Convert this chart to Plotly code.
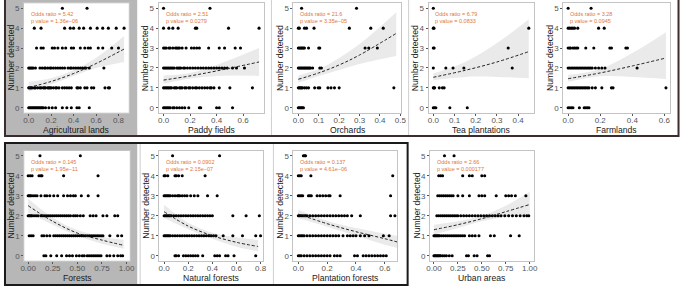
import plotly.graph_objects as go

# ---------------- data ----------------
panel_titles = ["Agricultural lands", "Paddy fields", "Orchards", "Tea plantations", "Farmlands",
                "Forests", "Natural forests", "Plantation forests", "Urban areas"]
odds_ratios = ["5.42", "2.51", "21.6", "6.79", "3.28", "0.145", "0.0902", "0.137", "2.66"]
p_values = ["1.36e\u221206", "0.0279", "3.35e\u221205", "0.0833", "0.0945",
            "1.95e\u221211", "2.15e\u221207", "4.61e\u221206", "0.000177"]
y_ticks = [0, 1, 2, 3, 4, 5]

agri_pts = {
    5: [0.30, 0.52],
    4: [0.05, 0.11, 0.32, 0.37, 0.40, 0.45, 0.49, 0.55, 0.61, 0.66, 0.71, 0.78, 0.85],
    3: [0.07, 0.11, 0.13, 0.21, 0.23, 0.26, 0.30, 0.33, 0.38, 0.40, 0.46, 0.50, 0.53, 0.55, 0.62, 0.66, 0.74, 0.80],
    2: [0.0, 0.01, 0.02, 0.03, 0.04, 0.06, 0.10, 0.12, 0.14, 0.15, 0.17, 0.19, 0.20, 0.22, 0.24, 0.26, 0.28,
        0.30, 0.32, 0.35, 0.37, 0.38, 0.40, 0.42, 0.44, 0.46, 0.48, 0.50, 0.51, 0.54, 0.67],
    1: [0.0, 0.01, 0.02, 0.03, 0.05, 0.06, 0.08, 0.10, 0.11, 0.13, 0.14, 0.15, 0.17, 0.18, 0.19, 0.20, 0.22,
        0.24, 0.25, 0.27, 0.30, 0.32, 0.34, 0.36, 0.38, 0.43, 0.44, 0.46, 0.50, 0.52, 0.56, 0.58, 0.68, 0.71, 0.72],
    0: [0.0, 0.01, 0.02, 0.03, 0.04, 0.05, 0.06, 0.07, 0.08, 0.09, 0.10, 0.11, 0.12, 0.13, 0.15, 0.18, 0.21,
        0.24, 0.30, 0.34, 0.38, 0.43, 0.45, 0.54],
}
paddy_pts = {
    5: [0.0, 0.35],
    4: [0.0, 0.04, 0.07, 0.11, 0.24, 0.25, 0.49, 0.72],
    3: [0.0, 0.01, 0.02, 0.04, 0.05, 0.07, 0.09, 0.10, 0.11, 0.12, 0.14, 0.17, 0.21, 0.23, 0.25, 0.27, 0.34,
        0.42, 0.46, 0.54, 0.58],
    2: [0.0, 0.01, 0.02, 0.03, 0.04, 0.05, 0.06, 0.07, 0.08, 0.10, 0.11, 0.12, 0.13, 0.15, 0.16, 0.18, 0.20,
        0.22, 0.24, 0.26, 0.28, 0.30, 0.32, 0.34, 0.36, 0.38, 0.40, 0.42, 0.44, 0.46, 0.48, 0.52, 0.55, 0.61],
    1: [0.0, 0.01, 0.02, 0.03, 0.04, 0.05, 0.06, 0.08, 0.09, 0.10, 0.12, 0.13, 0.14, 0.16, 0.17, 0.19, 0.20,
        0.22, 0.24, 0.25, 0.27, 0.29, 0.31, 0.33, 0.35, 0.36, 0.38, 0.42, 0.50, 0.67],
    0: [0.0, 0.01, 0.02, 0.03, 0.04, 0.05, 0.07, 0.08, 0.10, 0.12, 0.14, 0.16, 0.19, 0.27, 0.28, 0.40, 0.42, 0.52],
}
orch_pts = {
    5: [0.016, 0.285],
    4: [0.0, 0.005, 0.03, 0.04, 0.077, 0.25, 0.355, 0.416],
    3: [0.0, 0.005, 0.01, 0.015, 0.02, 0.025, 0.03, 0.05, 0.10, 0.105, 0.327, 0.345, 0.387],
    2: [0.0, 0.005, 0.01, 0.015, 0.02, 0.025, 0.03, 0.035, 0.04, 0.045, 0.05, 0.055, 0.06, 0.07, 0.105, 0.113],
    1: [0.0, 0.005, 0.01, 0.015, 0.02, 0.03, 0.04, 0.05, 0.08, 0.097, 0.105, 0.145, 0.16, 0.177, 0.20, 0.468],
    0: [0.0, 0.005, 0.01, 0.015, 0.02, 0.025],
}
tea_pts = {
    5: [0.0],
    4: [0.0, 0.003, 0.45],
    3: [0.0, 0.004, 0.353],
    2: [0.0, 0.059, 0.093, 0.144, 0.372],
    1: [0.0, 0.003, 0.006, 0.028, 0.043, 0.051],
    0: [0.0, 0.006, 0.012, 0.078, 0.16],
}
farm_pts = {
    5: [0.0, 0.143],
    4: [0.0, 0.01, 0.02, 0.03, 0.04, 0.06, 0.19, 0.225],
    3: [0.0, 0.01, 0.015, 0.03, 0.04, 0.05, 0.06, 0.11, 0.16, 0.26, 0.27, 0.36, 0.37],
    2: [0.0, 0.01, 0.02, 0.03, 0.04, 0.05, 0.06, 0.07, 0.08, 0.09, 0.10, 0.11, 0.12, 0.13, 0.14, 0.15, 0.17,
        0.19, 0.21, 0.23, 0.43],
    1: [0.0, 0.01, 0.02, 0.03, 0.04, 0.05, 0.06, 0.07, 0.08, 0.09, 0.10, 0.11, 0.12, 0.13, 0.15, 0.17, 0.21,
        0.27, 0.28, 0.61],
    0: [0.0, 0.01, 0.02, 0.03, 0.07, 0.10, 0.11, 0.12, 0.13],
}
forest_pts = {
    5: [0.12, 0.53],
    4: [0.0, 0.02, 0.04, 0.11, 0.13, 0.14, 0.36, 0.71],
    3: [0.0, 0.01, 0.02, 0.03, 0.05, 0.07, 0.09, 0.13, 0.17, 0.19, 0.22, 0.26, 0.30, 0.36, 0.40, 0.43, 0.46,
        0.48, 0.54, 0.61, 0.71],
    2: [0.0, 0.01, 0.02, 0.03, 0.04, 0.06, 0.08, 0.10, 0.13, 0.15, 0.17, 0.19, 0.21, 0.23, 0.25, 0.27, 0.29,
        0.31, 0.33, 0.35, 0.37, 0.39, 0.41, 0.43, 0.46, 0.48, 0.50, 0.53, 0.56, 0.63, 0.66, 0.69, 0.76, 0.80,
        0.88, 0.91],
    1: [0.01, 0.03, 0.05, 0.14, 0.16, 0.19, 0.22, 0.26, 0.28, 0.30, 0.32, 0.34, 0.36, 0.38, 0.40, 0.42, 0.44,
        0.46, 0.48, 0.50, 0.52, 0.54, 0.56, 0.58, 0.60, 0.62, 0.64, 0.66, 0.68, 0.70, 0.72, 0.74, 0.76, 0.83,
        0.91, 0.95],
    0: [0.16, 0.18, 0.23, 0.29, 0.34, 0.39, 0.42, 0.45, 0.49, 0.52, 0.55, 0.57, 0.60, 0.62, 0.64, 0.66, 0.68,
        0.70, 0.72, 0.74, 0.80, 0.83, 0.87, 0.91, 0.94, 0.96],
}
natural_pts = {
    5: [0.07, 0.46],
    4: [0.0, 0.01, 0.03, 0.09, 0.10, 0.12, 0.15, 0.34],
    3: [0.0, 0.01, 0.02, 0.03, 0.04, 0.05, 0.07, 0.09, 0.11, 0.12, 0.13, 0.15, 0.17, 0.19, 0.22, 0.25, 0.28,
        0.36, 0.44],
    2: [0.0, 0.01, 0.02, 0.03, 0.04, 0.05, 0.06, 0.08, 0.10, 0.12, 0.14, 0.16, 0.18, 0.20, 0.22, 0.24, 0.26,
        0.28, 0.30, 0.32, 0.34, 0.36, 0.38, 0.40, 0.57, 0.68, 0.79],
    1: [0.0, 0.01, 0.02, 0.03, 0.04, 0.05, 0.07, 0.09, 0.11, 0.13, 0.15, 0.17, 0.19, 0.21, 0.23, 0.25, 0.27,
        0.29, 0.31, 0.33, 0.35, 0.37, 0.39, 0.41, 0.43, 0.49, 0.57, 0.65, 0.76, 0.80],
    0: [0.09, 0.10, 0.12, 0.16, 0.18, 0.20, 0.22, 0.24, 0.26, 0.28, 0.32, 0.42, 0.44, 0.46, 0.51, 0.53, 0.58, 0.76],
}
plantation_pts = {
    5: [0.035, 0.045, 0.05],
    4: [0.0, 0.01, 0.02, 0.087, 0.655],
    3: [0.0, 0.01, 0.02, 0.03, 0.07, 0.08, 0.09, 0.13, 0.15, 0.17, 0.19, 0.21, 0.22, 0.29, 0.64],
    2: [0.0, 0.01, 0.02, 0.03, 0.04, 0.05, 0.06, 0.08, 0.10, 0.12, 0.14, 0.16, 0.18, 0.20, 0.22, 0.24, 0.26,
        0.28, 0.30, 0.32, 0.34, 0.37, 0.43, 0.64, 0.67],
    1: [0.0, 0.01, 0.02, 0.03, 0.04, 0.06, 0.08, 0.10, 0.12, 0.14, 0.16, 0.18, 0.20, 0.22, 0.24, 0.26, 0.28,
        0.31, 0.34, 0.36, 0.38, 0.40, 0.43, 0.46, 0.49, 0.59, 0.63],
    0: [0.0, 0.01, 0.02, 0.04, 0.06, 0.08, 0.10, 0.12, 0.14, 0.16, 0.18, 0.20, 0.22, 0.25, 0.27, 0.29, 0.39,
        0.41, 0.45, 0.47, 0.49, 0.51, 0.53, 0.55, 0.57, 0.59, 0.61],
}
urban_pts = {
    5: [0.11, 0.21],
    4: [0.05, 0.07, 0.09, 0.30, 0.37, 0.40, 0.50, 0.53],
    3: [0.04, 0.06, 0.08, 0.10, 0.12, 0.14, 0.16, 0.18, 0.20, 0.25, 0.30, 0.37, 0.47, 0.50, 0.53, 0.65, 0.75,
        0.78, 0.81, 0.85, 0.96],
    2: [0.03, 0.05, 0.07, 0.09, 0.11, 0.13, 0.15, 0.17, 0.19, 0.21, 0.23, 0.25, 0.28, 0.31, 0.34, 0.37, 0.40,
        0.43, 0.46, 0.49, 0.52, 0.55, 0.58, 0.61, 0.64, 0.67, 0.70, 0.74, 0.78, 0.82, 0.86, 0.90, 0.94, 0.97, 0.99],
    1: [0.0, 0.01, 0.02, 0.03, 0.04, 0.05, 0.06, 0.08, 0.10, 0.12, 0.14, 0.16, 0.18, 0.20, 0.22, 0.24, 0.26,
        0.28, 0.30, 0.32, 0.37, 0.40, 0.43, 0.47, 0.59, 0.63, 0.80, 0.89],
    0: [0.0, 0.01, 0.02, 0.03, 0.04, 0.05, 0.06, 0.07, 0.09, 0.11, 0.13, 0.16, 0.19, 0.34, 0.36, 0.42, 0.45,
        0.56, 0.58],
}
all_pts = [agri_pts, paddy_pts, orch_pts, tea_pts, farm_pts, forest_pts, natural_pts, plantation_pts, urban_pts]

# fitted curve and confidence band, read at a few x positions
fit_x = [
    [0, 0.2, 0.4, 0.6, 0.85],
    [0, 0.2, 0.4, 0.72],
    [0, 0.1, 0.2, 0.3, 0.48],
    [0, 0.15, 0.3, 0.45],
    [0, 0.2, 0.4, 0.61],
    [0, 0.25, 0.5, 0.75, 0.97],
    [0, 0.2, 0.4, 0.6, 0.78],
    [0, 0.2, 0.4, 0.6, 0.69],
    [0, 0.25, 0.5, 0.75, 1.0],
]
fit_y = [
    [1.02, 1.32, 1.72, 2.22, 2.95],
    [1.39, 1.6, 1.85, 2.3],
    [1.43, 1.75, 2.15, 2.65, 3.74],
    [1.53, 1.88, 2.3, 2.82],
    [1.46, 1.75, 2.1, 2.5],
    [2.5, 1.72, 1.13, 0.78, 0.52],
    [2.2, 1.48, 1.0, 0.67, 0.46],
    [2.08, 1.6, 1.2, 0.85, 0.68],
    [1.3, 1.55, 1.85, 2.2, 2.56],
]
band_lo = [
    [0.8, 1.18, 1.6, 2.0, 2.3],
    [1.2, 1.47, 1.6, 1.6],
    [1.25, 1.6, 1.9, 2.2, 2.6],
    [1.38, 1.55, 1.55, 1.48],
    [1.3, 1.58, 1.55, 1.45],
    [2.15, 1.55, 1.0, 0.6, 0.35],
    [1.88, 1.32, 0.85, 0.45, 0.22],
    [1.87, 1.45, 1.0, 0.55, 0.38],
    [1.05, 1.38, 1.72, 1.95, 2.05],
]
band_hi = [
    [1.3, 1.48, 1.88, 2.5, 3.6],
    [1.62, 1.75, 2.15, 3.0],
    [1.62, 1.95, 2.5, 3.2, 4.8],
    [1.72, 2.3, 3.25, 4.45],
    [1.65, 1.95, 2.75, 3.8],
    [2.85, 1.9, 1.28, 0.95, 0.8],
    [2.55, 1.65, 1.15, 0.92, 0.78],
    [2.3, 1.75, 1.38, 1.1, 0.98],
    [1.55, 1.72, 2.0, 2.5, 3.2],
]
x_tickvals = [
    [0, 0.2, 0.4, 0.6, 0.8],
    [0, 0.2, 0.4, 0.6],
    [0, 0.1, 0.2, 0.3, 0.4, 0.5],
    [0, 0.1, 0.2, 0.3, 0.4],
    [0, 0.2, 0.4, 0.6],
    [0, 0.25, 0.5, 0.75, 1.0],
    [0, 0.2, 0.4, 0.6, 0.8],
    [0, 0.2, 0.4, 0.6],
    [0, 0.25, 0.5, 0.75, 1.0],
]
x_ticktext = [
    ["0.0", "0.2", "0.4", "0.6", "0.8"],
    ["0.0", "0.2", "0.4", "0.6"],
    ["0.0", "0.1", "0.2", "0.3", "0.4", "0.5"],
    ["0.0", "0.1", "0.2", "0.3", "0.4"],
    ["0.0", "0.2", "0.4", "0.6"],
    ["0.00", "0.25", "0.50", "0.75", "1.00"],
    ["0.0", "0.2", "0.4", "0.6", "0.8"],
    ["0.0", "0.2", "0.4", "0.6"],
    ["0.00", "0.25", "0.50", "0.75", "1.00"],
]

# ---------------- layout geometry (pixels) ----------------
W, H = 685, 286
boxes = [
    (20.2, 126.5, 3.3, 112.7), (156.7, 263.3, 3.3, 112.7), (293.3, 402.5, 3.3, 112.7),
    (430.2, 536.6, 3.3, 112.7), (566.7, 675.0, 3.3, 112.7),
    (20.5, 127.5, 150.7, 260.7), (157.5, 262.3, 150.7, 260.7), (293.3, 398.3, 150.7, 260.7),
    (431.7, 536.7, 150.7, 260.7),
]
x_ranges = [
    [-0.0425, 0.8925], [-0.037, 0.756], [-0.024, 0.504], [-0.0225, 0.4725], [-0.0305, 0.636],
    [-0.04, 1.033], [-0.039, 0.819], [-0.034, 0.685], [-0.041, 1.041],
]


def fx(p):
    return p / W


def fy(p):
    return 1 - p / H


FONT = "Liberation Sans, Arial, sans-serif"
fig = go.Figure()
shapes = []
annotations = []

shapes.append(dict(type="rect", xref="paper", yref="paper", x0=fx(1), x1=fx(135), y0=fy(136), y1=fy(0),
                   fillcolor="#b7b7b7", line_width=0, layer="below"))
shapes.append(dict(type="rect", xref="paper", yref="paper", x0=fx(2), x1=fx(135), y0=fy(285), y1=fy(144),
                   fillcolor="#b7b7b7", line_width=0, layer="below"))
for (l, r, t, b) in boxes:
    shapes.append(dict(type="rect", xref="paper", yref="paper", x0=fx(l), x1=fx(r), y0=fy(b), y1=fy(t),
                       fillcolor="white", line_width=0, layer="below"))
for xs, y0, y1 in [(271, 0, 136), (410, 0, 136), (138, 144, 285), (273, 144, 285)]:
    shapes.append(dict(type="line", xref="paper", yref="paper", x0=fx(xs), x1=fx(xs), y0=fy(y1), y1=fy(y0),
                       line=dict(color="#cfcfcf", width=1), layer="below"))
shapes.append(dict(type="path", xref="paper", yref="paper",
                   path=f"M {fx(1)} {fy(0)} L {fx(1)} {fy(136)} L {fx(683.5)} {fy(136)} L {fx(683.5)} {fy(0)}",
                   line=dict(color="#3b2d2d", width=2)))
shapes.append(dict(type="rect", xref="paper", yref="paper", x0=fx(1), x1=fx(409), y0=fy(285), y1=fy(143),
                   line=dict(color="#1a1a1a", width=2)))

for i in range(9):
    ax = "" if i == 0 else str(i + 1)
    xa, ya = "x" + ax, "y" + ax
    l, r, t, b = boxes[i]
    pts = all_pts[i]
    fig.add_trace(go.Scatter(x=fit_x[i], y=band_lo[i], mode="lines", line=dict(width=0, shape="spline"),
                             hoverinfo="skip", showlegend=False, xaxis=xa, yaxis=ya))
    fig.add_trace(go.Scatter(x=fit_x[i], y=band_hi[i], mode="lines", line=dict(width=0, shape="spline"),
                             fill="tonexty", fillcolor="rgba(200,200,200,0.38)",
                             hoverinfo="skip", showlegend=False, xaxis=xa, yaxis=ya))
    xs, ys = [], []
    for yv in y_ticks:
        for xv in pts.get(yv, []):
            xs.append(xv)
            ys.append(yv)
    fig.add_trace(go.Scatter(x=xs, y=ys, mode="markers", marker=dict(color="black", size=3.1),
                             showlegend=False, xaxis=xa, yaxis=ya))
    fig.add_trace(go.Scatter(x=fit_x[i], y=fit_y[i], mode="lines",
                             line=dict(color="#222222", width=1, dash="3px,2px", shape="spline"),
                             showlegend=False, xaxis=xa, yaxis=ya))

    axis_common = dict(showgrid=False, zeroline=False, showline=True, mirror=True, linecolor="#c4c4c4",
                       linewidth=1, ticks="outside", ticklen=2, tickcolor="#555555", tickwidth=1,
                       tickfont=dict(family=FONT, size=8, color="#555555"))
    fig.update_layout(**{
        ("xaxis" + ax): dict(domain=[fx(l), fx(r)], range=x_ranges[i], anchor=ya, ticklabelstandoff=-2,
                             tickvals=x_tickvals[i], ticktext=x_ticktext[i], **axis_common),
        ("yaxis" + ax): dict(domain=[fy(b), fy(t)], range=[-0.25, 5.25], anchor=xa,
                             tickvals=y_ticks, ticktext=[str(v) for v in y_ticks], **axis_common),
    })
    annotations.append(dict(xref="paper", yref="paper", x=fx((l + r) / 2), y=fy(b + 17),
                            text=panel_titles[i], showarrow=False, xanchor="center", yanchor="middle",
                            font=dict(family=FONT, size=8.6, color="#1a1a1a")))
    annotations.append(dict(xref="paper", yref="paper", x=fx(l - 13.5), y=fy((t + b) / 2),
                            text="Number detected", showarrow=False, textangle=-90, xanchor="center",
                            yanchor="middle", font=dict(family=FONT, size=8.6, color="#1a1a1a")))
    annotations.append(dict(xref="paper", yref="paper", x=fx(l + 5), y=fy(t + 6),
                            text=f"Odds ratio = {odds_ratios[i]}<br>p value = {p_values[i]}",
                            showarrow=False, xanchor="left", yanchor="top", align="left",
                            font=dict(family=FONT, size=5.5, color="#e2763a")))

fig.update_layout(width=W, height=H, margin=dict(l=0, r=0, t=0, b=0),
                  paper_bgcolor="white", plot_bgcolor="rgba(0,0,0,0)",
                  shapes=shapes, annotations=annotations, showlegend=False)
fig.write_html("out.html", config={"displayModeBar": False},
               post_script="document.body.style.margin='0';document.body.style.overflow='hidden';")
